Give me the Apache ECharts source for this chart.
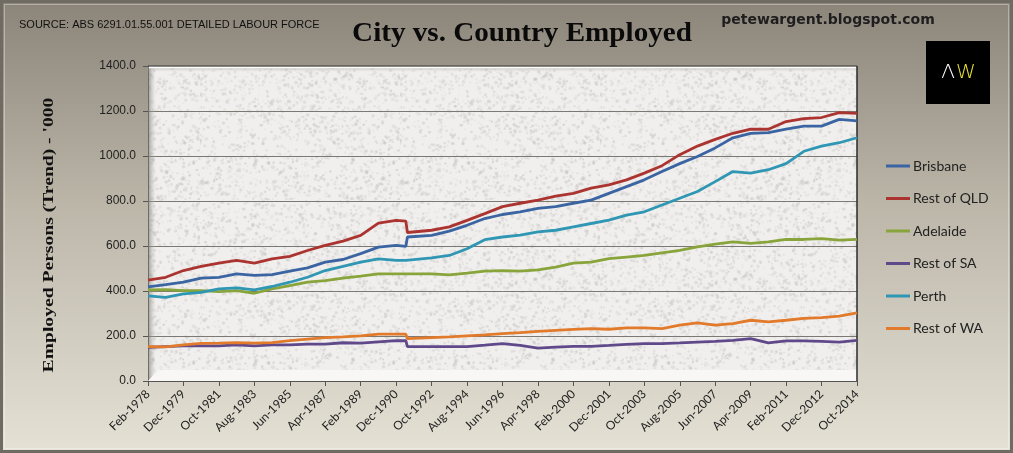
<!DOCTYPE html>
<html>
<head>
<meta charset="utf-8">
<script src="https://cdn.jsdelivr.net/npm/echarts@6/dist/echarts.min.js"></script>
<style>
html, body { margin: 0; padding: 0; }
#chart { width: 1013px; height: 453px; }
</style>
</head>
<body>
<div id="chart"></div>
<script>
// Tick labels (every 22 months from Feb-1978)
var tickLabels = ['Feb-1978', 'Dec-1979', 'Oct-1981', 'Aug-1983', 'Jun-1985', 'Apr-1987', 'Feb-1989',
    'Dec-1990', 'Oct-1992', 'Aug-1994', 'Jun-1996', 'Apr-1998', 'Feb-2000', 'Dec-2001', 'Oct-2003',
    'Aug-2005', 'Jun-2007', 'Apr-2009', 'Feb-2011', 'Dec-2012', 'Oct-2014'];

// Month index (0 = Feb-1978) of each value
var sampleMonths = [0, 11, 22, 33, 44, 55, 66, 77, 88, 99, 110, 121, 132, 143, 154, 160, 161, 176, 187, 198,
    209, 220, 231, 242, 253, 264, 275, 286, 297, 308, 319, 330, 341, 352, 363, 374, 385, 396, 407, 418, 429, 440];

var brisbane = [418, 428, 439, 457, 461, 476, 469, 473, 488, 503, 528, 540, 566, 595, 603, 598, 640, 647, 666, 692,
    722, 740, 752, 767, 775, 790, 804, 834, 864, 894, 931, 966, 998, 1036, 1081, 1101, 1104, 1119, 1133, 1133, 1163, 1156];
var restQld = [448, 461, 491, 509, 524, 536, 524, 543, 554, 580, 603, 622, 647, 702, 714, 711, 660, 670, 685, 714,
    744, 775, 790, 804, 822, 834, 857, 872, 894, 924, 957, 1006, 1044, 1074, 1101, 1119, 1119, 1153, 1166, 1171, 1193, 1189];
var adelaide = [405, 406, 402, 402, 397, 402, 390, 409, 424, 439, 446, 457, 466, 476, 476, 476, 476, 476, 472, 479,
    488, 491, 488, 494, 506, 524, 528, 544, 551, 558, 569, 581, 596, 608, 618, 612, 618, 629, 629, 633, 626, 629];
var restSa = [149, 153, 156, 156, 156, 161, 156, 161, 161, 164, 164, 170, 168, 174, 179, 179, 153, 153, 153, 153,
    159, 166, 158, 146, 151, 154, 154, 158, 163, 166, 166, 169, 173, 176, 181, 188, 169, 178, 178, 176, 173, 181];
var perth = [378, 372, 387, 394, 409, 414, 405, 420, 439, 461, 491, 509, 528, 543, 536, 536, 536, 547, 558, 588,
    628, 640, 648, 663, 670, 685, 700, 715, 737, 752, 782, 812, 842, 886, 931, 924, 939, 966, 1021, 1044, 1059, 1081];
var restWa = [153, 152, 161, 167, 168, 171, 168, 171, 179, 186, 193, 196, 201, 208, 208, 208, 188, 193, 196, 201,
    205, 211, 215, 221, 225, 229, 233, 230, 236, 236, 233, 248, 258, 248, 255, 270, 263, 270, 278, 282, 288, 303];

var seriesNames = ['Brisbane', 'Rest of QLD', 'Adelaide', 'Rest of SA', 'Perth', 'Rest of WA'];
var seriesColors = ['#3b64a2', '#ab3430', '#88a43a', '#60498a', '#2f96b4', '#e27a2c'];
var seriesValues = [brisbane, restQld, adelaide, restSa, perth, restWa];

// fine speckled "granite" fill for the plot area (decoration only)
function makeGranite() {
    var c = document.createElement('canvas');
    c.width = 200; c.height = 200;
    var ctx = c.getContext('2d');
    ctx.fillStyle = '#f0efed';
    ctx.fillRect(0, 0, 200, 200);
    var s = 9871;
    function next() { s = (s * 16807) % 2147483647; return s / 2147483647; }
    for (var i = 0; i < 2200; i++) {
        var g = 185 + Math.floor(next() * 40);
        ctx.fillStyle = 'rgba(' + g + ',' + g + ',' + (g - 2) + ',0.4)';
        ctx.beginPath();
        ctx.arc(next() * 200, next() * 200, 0.6 + next() * 1.3, 0, Math.PI * 2);
        ctx.fill();
    }
    return c;
}

var chart = echarts.init(document.getElementById('chart'));

var series = seriesNames.map(function (name, k) {
    return {
        name: name,
        type: 'line',
        showSymbol: false,
        z: 5,
        color: seriesColors[k],
        lineStyle: { width: 2.8, color: seriesColors[k] },
        data: sampleMonths.map(function (m, i) { return [m, seriesValues[k][i]]; })
    };
});

var option = {
    animation: false,
    backgroundColor: {
        type: 'linear', x: 0, y: 0, x2: 0, y2: 1,
        colorStops: [
            { offset: 0, color: '#8b8479' },
            { offset: 0.45, color: '#bcb6a9' },
            { offset: 1, color: '#e4e1d5' }
        ]
    },
    grid: {
        left: 148, right: 156, top: 66, bottom: 72,
        show: true,
        backgroundColor: { image: makeGranite(), repeat: 'repeat' },
        borderWidth: 0
    },
    legend: {
        orient: 'vertical',
        left: 881,
        top: 153,
        icon: 'rect',
        itemWidth: 24,
        itemHeight: 3,
        itemGap: 16.5,
        data: seriesNames,
        textStyle: { fontFamily: 'Lato', fontSize: 14, color: '#222', lineHeight: 16, padding: [0, 0, 0, -2] }
    },
    xAxis: {
        type: 'value',
        min: 0,
        max: 440,
        interval: 22,
        axisLine: { show: true, lineStyle: { color: '#555', width: 1 } },
        axisTick: { show: true, length: 5, lineStyle: { color: '#555' } },
        splitLine: { show: false },
        axisLabel: {
            rotate: 45,
            margin: 11,
            fontFamily: 'Lato',
            fontSize: 12,
            color: '#222',
            showMinLabel: true,
            showMaxLabel: true,
            formatter: function (v) { return tickLabels[Math.round(v / 22)]; }
        }
    },
    yAxis: {
        type: 'value',
        min: 0,
        max: 1400,
        interval: 200,
        axisLine: { show: true, lineStyle: { color: '#555', width: 1 } },
        axisTick: { show: true, length: 5, lineStyle: { color: '#555' } },
        splitLine: { show: true, lineStyle: { color: '#7c7873', width: 1 } },
        axisLabel: {
            margin: 12,
            fontFamily: 'Liberation Sans',
            fontSize: 12,
            color: '#222',
            formatter: function (v) { return v.toFixed(1); }
        }
    },
    graphic: [
        // outer frame
        { type: 'rect', shape: { x: 1.5, y: 1.5, width: 1010, height: 450 }, style: { fill: 'none', stroke: '#6f6a62', lineWidth: 3 }, z: 0 },
        { type: 'rect', shape: { x: 4.5, y: 4.5, width: 1004, height: 444 }, style: { fill: 'none', stroke: 'rgba(255,255,255,0.35)', lineWidth: 1 }, z: 0 },
        // plot box edges, left wall and floor
        { type: 'rect', shape: { x: 148, y: 66, width: 8, height: 314 },
          style: { fill: { type: 'linear', x: 0, y: 0, x2: 1, y2: 0, colorStops: [{ offset: 0, color: 'rgba(120,116,110,0.7)' }, { offset: 1, color: 'rgba(200,198,194,0)' }] } }, z: 1 },
        { type: 'rect', shape: { x: 148, y: 66, width: 709, height: 6 },
          style: { fill: { type: 'linear', x: 0, y: 0, x2: 0, y2: 1, colorStops: [{ offset: 0, color: 'rgba(130,126,120,0.6)' }, { offset: 1, color: 'rgba(200,198,194,0)' }] } }, z: 1 },
        { type: 'polygon', shape: { points: [[148, 381], [158, 370], [857, 370], [857, 381]] }, style: { fill: '#f8f7f5' }, z: 1 },
        { type: 'line', shape: { x1: 148, y1: 66, x2: 857, y2: 66 }, style: { stroke: '#3a3a3a', lineWidth: 1 }, z: 3 },
        { type: 'line', shape: { x1: 149, y1: 67.5, x2: 857, y2: 67.5 }, style: { stroke: '#ffffff', lineWidth: 1.5 }, z: 3 },
        { type: 'line', shape: { x1: 857, y1: 66, x2: 857, y2: 381 }, style: { stroke: '#2a2a2a', lineWidth: 1.5 }, z: 3 },
        // texts
        { type: 'text', left: 19, top: 19, z: 10,
          style: { text: 'SOURCE: ABS 6291.01.55.001 DETAILED LABOUR FORCE', fontFamily: 'Liberation Sans', fontSize: 11, fill: '#111' } },
        { type: 'text', x: 522, y: 34, scaleX: 1.04, z: 10,
          style: { text: 'City vs. Country Employed', fontFamily: 'Liberation Serif', fontWeight: 'bold', fontSize: 28, fill: '#0a0a0a', align: 'center', verticalAlign: 'middle' } },
        { type: 'text', x: 828, y: 20, z: 10,
          style: { text: 'petewargent.blogspot.com', fontFamily: 'DejaVu Sans', fontWeight: 'bold', fontSize: 14, fill: '#1e1e1e', align: 'center', verticalAlign: 'middle' } },
        { type: 'text', x: 49, y: 235, rotation: Math.PI / 2, scaleX: 1.4, z: 10,
          style: { text: "Employed Persons (Trend) - '000", fontFamily: 'Liberation Serif', fontWeight: 'bold', fontSize: 14, fill: '#111', align: 'center', verticalAlign: 'middle' } },
        // AW logo
        { type: 'rect', shape: { x: 926, y: 41, width: 64, height: 63 }, style: { fill: '#000' }, z: 10 },
        { type: 'text', x: 948, y: 73, z: 11,
          style: { text: '\u039B', fontFamily: 'DejaVu Sans', fontWeight: 'lighter', fontSize: 20, fill: '#ffffff', align: 'center', verticalAlign: 'middle' } },
        { type: 'text', x: 966, y: 73, z: 11,
          style: { text: 'W', fontFamily: 'DejaVu Sans', fontWeight: 'lighter', fontSize: 20, fill: '#ece433', align: 'center', verticalAlign: 'middle' } }
    ],
    series: series
};

chart.setOption(option);
</script>
</body>
</html>
